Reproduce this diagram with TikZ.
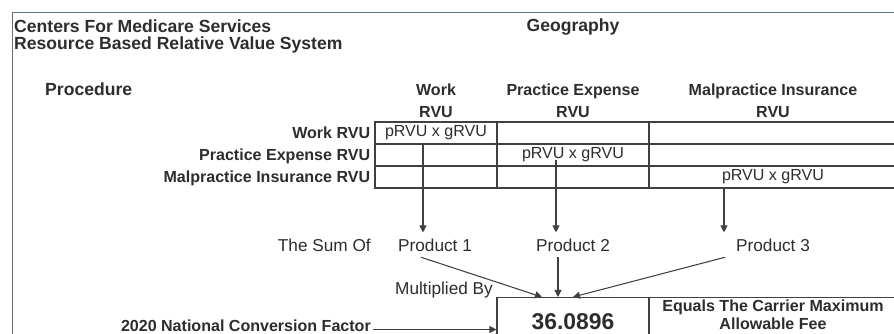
\documentclass[tikz,border=0pt]{standalone}
\usepackage{fontspec}
\setmainfont{Liberation Sans}
\usepackage{tikz}
\usetikzlibrary{arrows.meta,calc}
\definecolor{tGray}{HTML}{2D2D2D}
\definecolor{lGray}{HTML}{404040}
\definecolor{fBlue}{HTML}{5F7285}
\tikzset{
  ttl/.style={inner sep=0pt, text=tGray, font=\fontsize{15}{18}\selectfont\bfseries},
  lbl/.style={inner sep=0pt, text=tGray, font=\fontsize{13.7}{15.3}\selectfont\bfseries},
  txt/.style={inner sep=0pt, text=tGray, font=\fontsize{14.7}{17}\selectfont},
  celltxt/.style={inner sep=0pt, text=tGray, font=\fontsize{13.7}{16}\selectfont},
  prod/.style={txt, inner ysep=5pt},
  cellbox/.style={draw=lGray, line width=1pt, inner sep=0pt, minimum height={22*0.03cm}},
  arr/.style={draw=lGray, line width=0.9pt, -{Triangle[length=6pt,width=6pt]}}}

\begin{document}
\begin{tikzpicture}[x=0.03cm, y=-0.03cm]
      \clip (0,0) rectangle (894,333);
      \draw[fBlue, line width=1.6pt] (12.5,340) |- (900,12.5);
      \node[ttl, anchor=base west] (cms) at (14,32) {Centers For Medicare Services};
      \node[ttl, anchor=base west] (rbrvs) at (14,49) {Resource Based Relative Value System};
      \node[ttl, anchor=base] (geo) at (573,31) {Geography};
      \node[ttl, anchor=base west] (proc) at (45,95) {Procedure};
      \foreach \n/\x/\t in {wk/436/Work, pe/573/Practice Expense, mi/773/Malpractice Insurance} {
        \node[lbl, anchor=base] (h\n) at (\x,95) {\t};
        \node[lbl, anchor=base] (h\n r) at (\x,117) {RVU};
      }
      \foreach \r/\y in {1/133, 2/155, 3/177}
        \foreach \c/\x/\w in {1/436/122, 2/573/152, 3/773/248}
          \node[cellbox, minimum width={\w*0.03cm}] (c\r\c) at (\x,\y) {};
      \foreach \r/\t in {1/Work RVU, 2/Practice Expense RVU, 3/Malpractice Insurance RVU}
        \node[lbl, anchor=base east] (r\r) at ($(c\r1.west)+(-4,5.5)$) {\t};
      \foreach \i in {1,2,3} \node[celltxt] (p\i) at (c\i\i) {pRVU x gRVU};
      \node[txt, anchor=base east] (sum) at (371,251) {The Sum Of};
      \foreach \i/\x in {1/435, 2/573, 3/773} \node[prod, anchor=base] (pr\i) at (\x,251) {Product \i};
      \coordinate (s1) at (423,144);
      \coordinate (s2) at (556,160);
      \coordinate (s3) at (724,188);
      \foreach \i in {1,2,3} \draw[arr] (s\i) -- (s\i |- pr\i.north);
      \node[cellbox, minimum width={152*0.03cm}, minimum height={60*0.03cm}, anchor=north] (fac) at (573,297) {};
      \node[cellbox, minimum width={248*0.03cm}, minimum height={60*0.03cm}, anchor=north] (eq) at (773,297) {};
      \node[inner sep=0pt, text=tGray, font=\fontsize{19.5}{22}\selectfont\bfseries, anchor=base] (num) at (573,329.5) {36.0896};
      \node[lbl, align=center, anchor=north] (fee) at (773,300) {Equals The Carrier Maximum\\Allowable Fee};
      \node[txt, anchor=base west] (mul) at (395,294) {Multiplied By};
      \draw[arr] (421,0 |- pr1.south) -- (542,0 |- fac.north);
      \draw[arr] (558,0 |- pr2.south) -- (558,0 |- fac.north);
      \draw[arr] (725,0 |- pr3.south) -- (573,0 |- fac.north);
      \node[lbl, anchor=base east] (conv) at (371,331) {2020 National Conversion Factor};
      \coordinate (cf) at (373,329.5);
      \draw[arr] (cf) -- (cf -| fac.west);
    \end{tikzpicture}
\end{document}
